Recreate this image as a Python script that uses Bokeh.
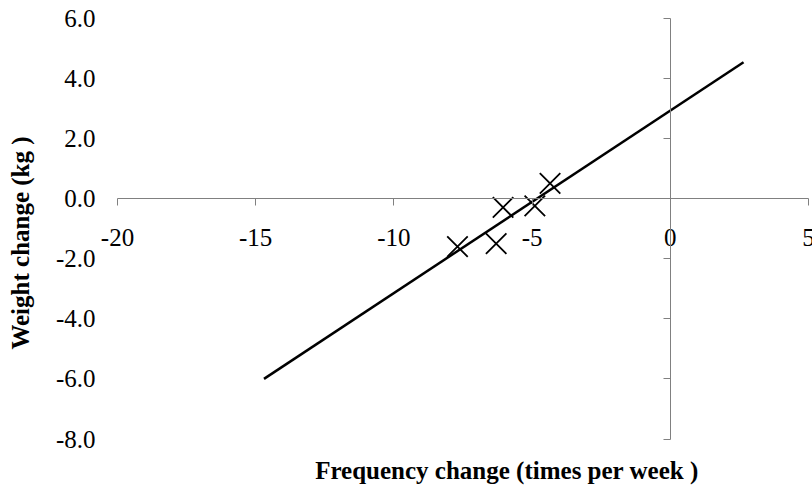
from bokeh.plotting import figure
from bokeh.models import LinearAxis, FixedTicker, NumeralTickFormatter, Range1d, Label
from bokeh.core.properties import value
from bokeh.embed import file_html
from bokeh.resources import INLINE

# Data
freq_change = [-7.7, -6.3, -6.05, -4.9, -4.35]
weight_change = [-1.6, -1.5, -0.3, -0.25, 0.5]
trend_x = [-14.7, 2.65]
trend_y = [-6.0, 4.53]
x_ticks = [-20, -15, -10, -5, 0, 5]
x_tick_labels = ["-20", "-15", "-10", "-5", "0", "5"]
y_ticks = [-8, -6, -4, -2, 0, 2, 4, 6]
x_title = "Frequency change (times per week )"
y_title = "Weight change (kg )"

FONT = "Liberation Serif"
AXIS_COLOR = "#808080"

# plot frame is padded beyond the axis extents so the crossing axes' labels fit
p = figure(width=812, height=485, output_backend="svg", toolbar_location=None,
           x_range=Range1d(-20.687, 5.145),
           y_range=Range1d(-9.546, 6.582),
           x_axis_location=None, y_axis_location=None,
           min_border_left=98, min_border_right=0,
           min_border_top=0, min_border_bottom=0)
p.grid.visible = False
p.outline_line_color = None
p.background_fill_color = "white"
p.border_fill_color = "white"

# vertical axis line at x = 0, ticks pointing left
y_zero_axis = LinearAxis(ticker=FixedTicker(ticks=y_ticks), fixed_location=0,
                         bounds=(min(y_ticks), max(y_ticks)),
                         major_label_overrides={t: "" for t in y_ticks})
y_zero_axis.axis_line_color = AXIS_COLOR
y_zero_axis.major_tick_line_color = AXIS_COLOR
y_zero_axis.major_tick_in = 7
y_zero_axis.major_tick_out = 0
y_zero_axis.minor_tick_line_color = None
y_zero_axis.major_label_standoff = 0
p.add_layout(y_zero_axis, "right")

# horizontal axis line at y = 0, ticks pointing down
x_zero_axis = LinearAxis(ticker=FixedTicker(ticks=x_ticks), fixed_location=0,
                         bounds=(min(x_ticks), max(x_ticks)),
                         major_label_overrides={t: "" for t in x_ticks})
x_zero_axis.axis_line_color = AXIS_COLOR
x_zero_axis.major_tick_line_color = AXIS_COLOR
x_zero_axis.major_tick_in = 7
x_zero_axis.major_tick_out = 0
x_zero_axis.minor_tick_line_color = None
x_zero_axis.major_label_standoff = 0
p.add_layout(x_zero_axis, "above")

# labels of the vertical axis at the left edge
y_lab_axis = LinearAxis(ticker=FixedTicker(ticks=y_ticks),
                        formatter=NumeralTickFormatter(format="0.0"))
y_lab_axis.axis_line_color = None
y_lab_axis.major_tick_line_color = None
y_lab_axis.minor_tick_line_color = None
y_lab_axis.major_tick_in = 0
y_lab_axis.major_tick_out = 0
y_lab_axis.major_label_standoff = 3
y_lab_axis.major_label_text_font = FONT
y_lab_axis.major_label_text_font_size = "25px"
y_lab_axis.major_label_text_color = "black"
y_lab_axis.axis_label = y_title
y_lab_axis.axis_label_text_font = FONT
y_lab_axis.axis_label_text_font_style = "bold"
y_lab_axis.axis_label_text_font_size = "25px"
y_lab_axis.axis_label_text_color = "black"
y_lab_axis.axis_label_standoff = 19
p.add_layout(y_lab_axis, "left")

# tick labels of the horizontal axis, just under the y = 0 line
p.text(x=x_ticks, y=[0] * len(x_ticks), text=x_tick_labels,
       y_offset=39, text_align="center", text_baseline="alphabetic",
       text_font=value(FONT), text_font_size=value("25px"), text_color="black")

# horizontal axis title
p.add_layout(Label(x=-5.91, y=-9.045, text=x_title, text_align="center",
                   text_baseline="alphabetic", text_font=FONT, text_font_style="bold",
                   text_font_size="25px", text_color="black"))

# trend line and data points
p.line(trend_x, trend_y, line_color="black", line_width=2.5)
p.scatter(freq_change, weight_change, marker="x", size=29,
          line_color="black", line_width=1.8)

open("out.html", "w").write(file_html(p, INLINE))
